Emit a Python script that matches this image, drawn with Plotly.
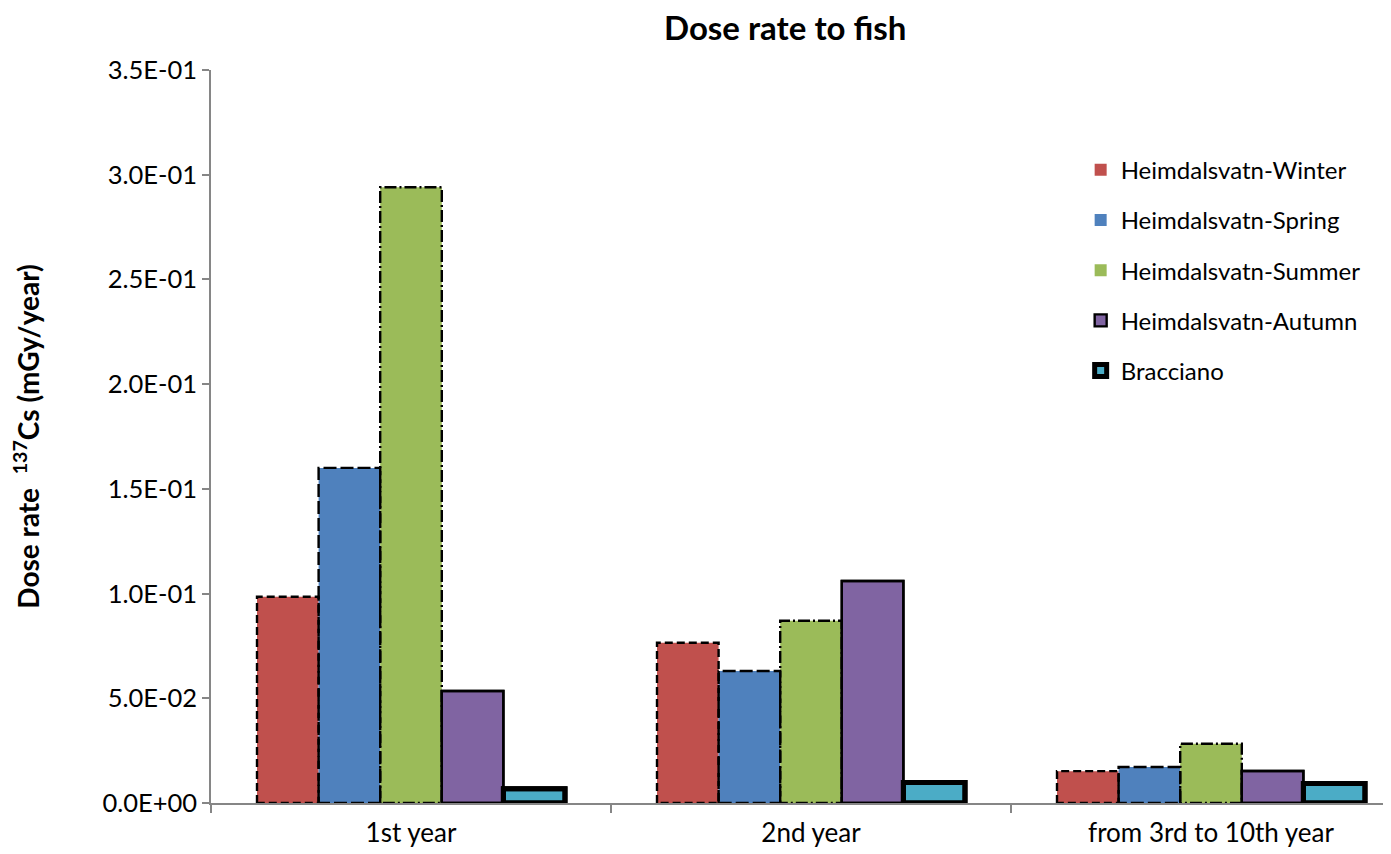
import plotly.graph_objects as go

categories = ["1st year", "2nd year", "from 3rd to 10th year"]
series_names = ["Heimdalsvatn-Winter", "Heimdalsvatn-Spring", "Heimdalsvatn-Summer",
                "Heimdalsvatn-Autumn", "Bracciano"]
winter = [0.0985, 0.0765, 0.0152]
spring = [0.1600, 0.0630, 0.0172]
summer = [0.2940, 0.0870, 0.0283]
autumn = [0.0535, 0.1060, 0.0153]
bracciano = [0.0068, 0.0098, 0.0093]
y_tickvals = [0, 0.05, 0.10, 0.15, 0.20, 0.25, 0.30, 0.35]
y_ticktext = ["0.0E+00", "5.0E-02", "1.0E-01", "1.5E-01", "2.0E-01", "2.5E-01", "3.0E-01", "3.5E-01"]

values = [winter, spring, summer, autumn, bracciano]
colors = ["#C0504D", "#4F81BD", "#9BBB59", "#8064A2", "#4BACC6"]
dashes = ["8px,4px", "13px,4px", "12px,3px,2px,3px", "solid", "solid"]
widths = [2.4, 2.4, 2.4, 2.4, 5]

FONT = "Lato"
bw = 0.154
xpos = list(range(len(categories)))

fig = go.Figure()
for j, (name, vals) in enumerate(zip(series_names, values)):
    off = (j - 2.5) * bw
    fig.add_trace(go.Bar(
        x=xpos, y=vals, width=bw, offset=off, name=name,
        marker=dict(color=colors[j], line=dict(color="black", width=widths[j] if j >= 3 else 0)),
        legendgroup=name,
    ))
    ox, oy = [], []
    for xi, v in zip(xpos, vals):
        l = xi + off
        r = l + bw
        ox += [l, l, r, r, l, None]
        oy += [0, v, v, 0, 0, None]
    fig.add_trace(go.Scatter(
        x=ox, y=oy, mode="lines", showlegend=False, hoverinfo="skip",
        line=dict(color="black", width=widths[j], dash=dashes[j]),
        legendgroup=name,
    ))

fig.update_layout(
    width=1383, height=846,
    margin=dict(l=203, r=0, t=62, b=51, autoexpand=False),
    paper_bgcolor="white", plot_bgcolor="white",
    font=dict(family=FONT, size=24, color="black"),
    title=dict(text="<b>Dose rate to fish</b>", x=0.562, xanchor="center",
               y=0.99, yanchor="top", font=dict(size=33, family=FONT)),
    barmode="overlay",
    showlegend=True,
    legend=dict(x=0.737, y=0.894, xanchor="left", yanchor="top",
                font=dict(size=24, family=FONT), tracegroupgap=16,
                traceorder="grouped", bgcolor="rgba(0,0,0,0)", itemwidth=30),
)
fig.update_xaxes(
    range=[-0.5, 2.45], tickvals=xpos, ticktext=categories, ticks="",
    showline=True, linecolor="#868686", linewidth=1.5, showgrid=False, zeroline=False,
    tickfont=dict(size=26, family=FONT), ticklabelstandoff=6,
    minor=dict(tickmode="array", tickvals=[-0.5, 0.5, 1.5], ticks="outside",
               ticklen=8, tickcolor="#868686", tickwidth=1.5),
)
fig.update_yaxes(
    range=[0, 0.35], tickvals=y_tickvals, ticktext=y_ticktext,
    ticks="outside", ticklen=7, tickcolor="#868686", tickwidth=1.5,
    showline=True, linecolor="#868686", linewidth=1.5, showgrid=False, zeroline=False,
    tickfont=dict(size=25.5, family=FONT),
    title=dict(text="<b>Dose rate  <sup>137</sup>Cs (mGy/year)</b>", font=dict(size=28, family=FONT), standoff=58),
)

fig.write_html("out.html")
